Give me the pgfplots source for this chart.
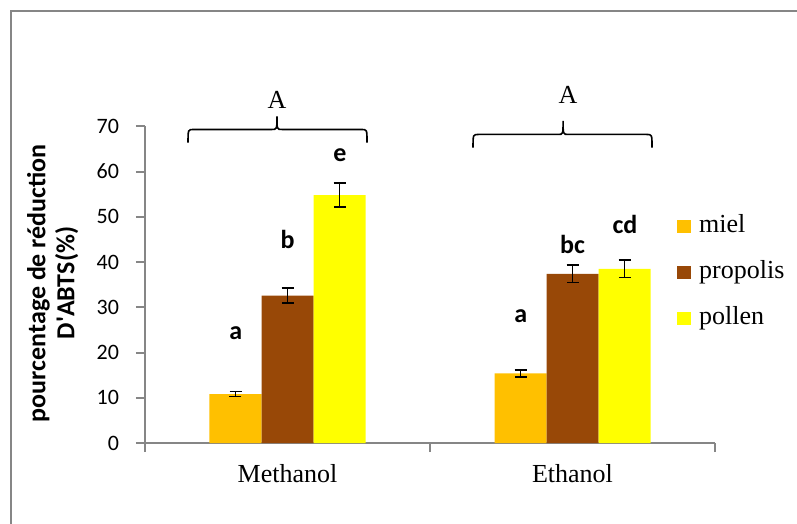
\documentclass[border=0pt]{standalone}
\usepackage{fontspec}
\setmainfont{Liberation Serif}
\setsansfont{Carlito}
\usepackage{pgfplots}
\pgfplotsset{compat=1.18}
\definecolor{miel}{HTML}{FFC000}
\definecolor{propolis}{HTML}{984807}
\definecolor{pollen}{HTML}{FFFF00}
\definecolor{axisgray}{HTML}{868686}
\pgfplotsset{myerr/.style={error bars/.cd, y dir=both, y explicit,
  error bar style={black, line width=0.8pt},
  error mark options={rotate=90, mark size=3pt, black, line width=0.8pt}}}
\begin{document}
\begin{tikzpicture}
\path[use as bounding box] (-72.5pt,-40.5pt) rectangle (326pt,221.5pt);
\draw[axisgray, line width=1pt] (-67pt,-41pt) -- (-67pt,216pt) -- (327pt,216pt);
\begin{axis}[
  at={(0,0)}, anchor=south west,
  scale only axis, width=285pt, height=158.35pt,
  ybar=0pt, bar width=26pt,
  xmin=-0.5, xmax=1.5, ymin=0, ymax=70,
  ytick={0,10,...,70},
  xtick={-0.5,0.5,1.5}, xticklabels={,,},
  extra x ticks={0,1}, extra x tick labels={Methanol,Ethanol},
  extra x tick style={major tick length=0pt, xticklabel style={font=\fontsize{13}{15}\selectfont, yshift=-7pt}},
  axis x line*=bottom, axis y line*=left,
  axis line style={-, draw=axisgray, line width=1pt},
  tick style={draw=axisgray, line width=1pt},
  major tick length=4.5pt, tick align=outside,
  /pgf/number format/assume math mode=true,
  yticklabel style={font=\sffamily\fontsize{11}{13}\selectfont, xshift=-5pt},
  every axis y label/.style={at={(axis description cs:-0.162,0.505)}, rotate=90, anchor=center,
    font=\sffamily\bfseries\fontsize{13}{14.5}\selectfont, align=center},
  ylabel={pourcentage de réduction\\D\textquotesingle ABTS(\%)},
  clip=false,
  legend style={draw=none, fill=none, at={(axis description cs:0.933,0.729)}, anchor=north west,
    inner sep=0pt, row sep=9pt,
    /tikz/every odd column/.append style={column sep=3pt},
    nodes={inner sep=1pt, text height=9pt, text depth=3pt, font=\fontsize{13}{15}\selectfont}},
  legend cell align=left,
  legend image code/.code={\fill[#1, draw=none] (0pt,-3.2pt) rectangle (7pt,3.2pt);},
]
\addplot[fill=miel, draw=none, myerr] coordinates {(0,10.8) +- (0,0.55) (1,15.4) +- (0,0.8)};
\addplot[fill=propolis, draw=none, myerr] coordinates {(0,32.6) +- (0,1.7) (1,37.4) +- (0,1.9)};
\addplot[fill=pollen, draw=none, myerr] coordinates {(0,54.8) +- (0,2.7) (1,38.5) +- (0,1.9)};
\legend{miel,propolis,pollen}
% significance letters
\begin{scope}[every node/.style={font=\sffamily\bfseries\fontsize{13}{15}\selectfont}]
\node at (axis cs:-0.181,24.3) {a};
\node at (axis cs:0.0,45) {b};
\node at (axis cs:0.184,63.6) {e};
\node at (axis cs:0.819,28) {a};
\node at (axis cs:1.0,43.9) {bc};
\node at (axis cs:1.184,48.3) {cd};
\end{scope}
% braces
\draw[black, line width=0.8pt] (axis cs:-0.349,66.4) .. controls (axis cs:-0.349,69.3) .. (axis cs:-0.33,69.3)
  -- (axis cs:-0.055,69.3) .. controls (axis cs:-0.037,69.3) .. (axis cs:-0.037,72.2)
  .. controls (axis cs:-0.037,69.3) .. (axis cs:-0.019,69.3)
  -- (axis cs:0.26,69.3) .. controls (axis cs:0.279,69.3) .. (axis cs:0.279,66.4);
\draw[black, line width=0.8pt] (axis cs:0.651,65.3) .. controls (axis cs:0.651,68.2) .. (axis cs:0.67,68.2)
  -- (axis cs:0.949,68.2) .. controls (axis cs:0.967,68.2) .. (axis cs:0.967,71.2)
  .. controls (axis cs:0.967,68.2) .. (axis cs:0.985,68.2)
  -- (axis cs:1.26,68.2) .. controls (axis cs:1.279,68.2) .. (axis cs:1.279,65.3);
\node[font=\fontsize{13}{15}\selectfont] at (axis cs:-0.037,75.9) {A};
\node[font=\fontsize{13}{15}\selectfont] at (axis cs:0.984,77) {A};
\end{axis}
\end{tikzpicture}
\end{document}
